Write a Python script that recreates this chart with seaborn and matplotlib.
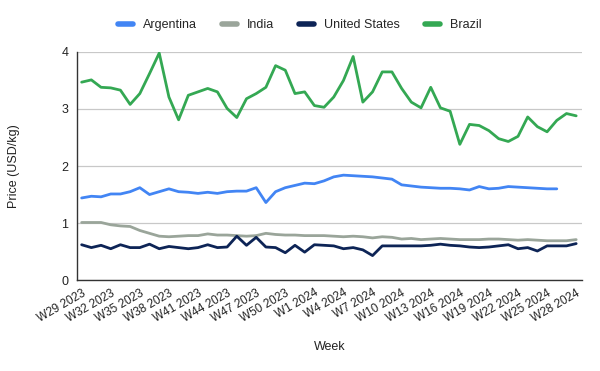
import matplotlib
matplotlib.use("Agg")
import matplotlib.pyplot as plt
import seaborn as sns
import numpy as np
import pandas as pd
from matplotlib.lines import Line2D

# Week categories: W29 2023 .. W28 2024
weeks = [f"W{w} 2023" for w in range(29, 53)] + [f"W{w} 2024" for w in range(1, 29)]

argentina = [1.44, 1.47, 1.46, 1.51, 1.51, 1.55, 1.62, 1.50, 1.55, 1.60,
             1.55, 1.54, 1.52, 1.54, 1.52, 1.55, 1.56, 1.56, 1.62, 1.36,
             1.55, 1.62, 1.66, 1.70, 1.69, 1.74, 1.81, 1.84, 1.83, 1.82,
             1.81, 1.79, 1.77, 1.67, 1.65, 1.63, 1.62, 1.61, 1.61, 1.60,
             1.58, 1.64, 1.60, 1.61, 1.64, 1.63, 1.62, 1.61, 1.60, 1.60,
             np.nan, np.nan]
india = [1.01, 1.01, 1.01, 0.97, 0.95, 0.94, 0.87, 0.82, 0.77, 0.76,
         0.77, 0.78, 0.78, 0.81, 0.79, 0.79, 0.78, 0.77, 0.78, 0.82,
         0.80, 0.79, 0.79, 0.78, 0.78, 0.78, 0.77, 0.76, 0.77, 0.76,
         0.74, 0.76, 0.75, 0.72, 0.73, 0.71, 0.72, 0.73, 0.72, 0.71,
         0.71, 0.71, 0.72, 0.72, 0.71, 0.70, 0.71, 0.70, 0.69, 0.69,
         0.69, 0.71]
united_states = [0.62, 0.57, 0.61, 0.55, 0.62, 0.57, 0.57, 0.63, 0.55, 0.59,
                 0.57, 0.55, 0.57, 0.62, 0.57, 0.58, 0.77, 0.61, 0.75, 0.58,
                 0.57, 0.48, 0.61, 0.49, 0.62, 0.61, 0.60, 0.55, 0.57, 0.53,
                 0.43, 0.60, 0.60, 0.60, 0.60, 0.60, 0.61, 0.63, 0.61, 0.60,
                 0.58, 0.57, 0.58, 0.60, 0.62, 0.55, 0.57, 0.51, 0.60, 0.60,
                 0.60, 0.64]
brazil = [3.47, 3.51, 3.38, 3.37, 3.33, 3.08, 3.27, 3.62, 3.98, 3.21,
          2.81, 3.24, 3.30, 3.36, 3.30, 3.01, 2.85, 3.18, 3.27, 3.38,
          3.76, 3.68, 3.27, 3.30, 3.06, 3.03, 3.21, 3.50, 3.92, 3.12,
          3.30, 3.65, 3.65, 3.36, 3.12, 3.02, 3.38, 3.02, 2.96, 2.38,
          2.73, 2.71, 2.62, 2.48, 2.43, 2.52, 2.86, 2.69, 2.60, 2.80,
          2.92, 2.88]

countries = ["Argentina", "India", "United States", "Brazil"]
colors = ["#4285f4", "#9aa59a", "#0d2456", "#34a853"]

df = pd.DataFrame({
    "idx": list(range(len(weeks))) * 4,
    "Country": np.repeat(countries, len(weeks)),
    "Price": argentina + india + united_states + brazil,
})

sns.set_style("white")
plt.rcParams["font.family"] = ["Liberation Sans", "DejaVu Sans"]

fig = plt.figure(figsize=(6, 3.71), dpi=100)
ax = fig.add_axes([0.128, 0.245, 0.842, 0.615])

sns.lineplot(data=df, x="idx", y="Price", hue="Country", palette=colors,
             hue_order=countries, linewidth=2, ax=ax, legend=False,
             solid_joinstyle="round", solid_capstyle="round")

ax.set_xlim(-0.5, len(weeks) - 0.4)
ax.set_ylim(0, 4)
ax.set_yticks([0, 1, 2, 3, 4])
ax.yaxis.grid(True, color="#c8c8c8", linewidth=0.9)
ax.set_axisbelow(True)

tick_idx = list(range(0, len(weeks), 3))
ax.set_xticks(tick_idx)
ax.set_xticklabels([weeks[i] for i in tick_idx], rotation=30, ha="right",
                   rotation_mode="anchor", fontsize=8.5, color="#222222")
ax.tick_params(axis="x", length=3, width=0.8, color="#333333", pad=2)
ax.tick_params(axis="y", length=0, labelsize=9, colors="#222222", pad=6)

for s in ["top", "right"]:
    ax.spines[s].set_visible(False)
for s in ["left", "bottom"]:
    ax.spines[s].set_color("#333333")
    ax.spines[s].set_linewidth(1)

ax.set_xlabel("Week", fontsize=9, color="#222222", labelpad=12)
ax.set_ylabel("Price (USD/kg)", fontsize=9, color="#222222", labelpad=30)

handles = [Line2D([0], [0], color=c, lw=4) for c in colors]
fig.legend(handles, countries, loc="center", bbox_to_anchor=(0.5, 0.932),
           ncol=4, frameon=False, fontsize=9, handlelength=1.2,
           handletextpad=0.8, columnspacing=2.0)

fig.savefig("out.png", dpi=100)
